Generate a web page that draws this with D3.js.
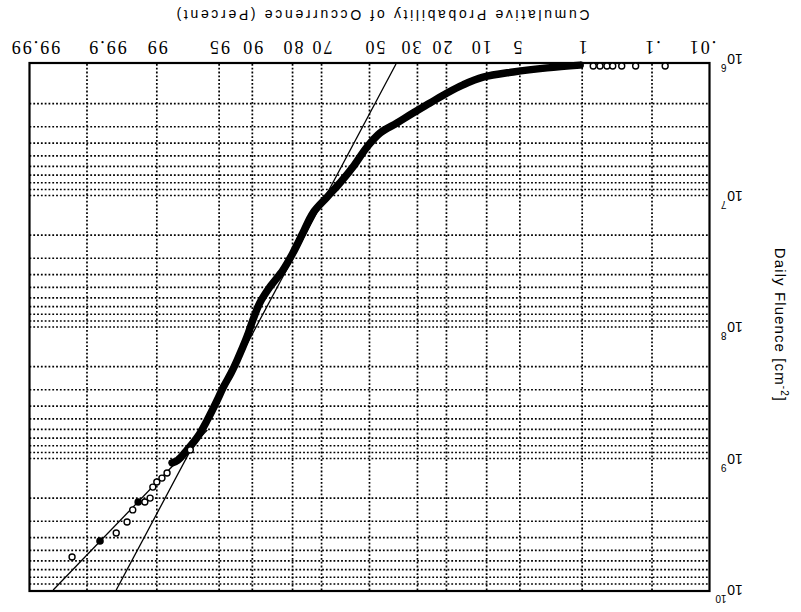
<!DOCTYPE html>
<html><head><meta charset="utf-8">
<script src="https://cdn.jsdelivr.net/npm/d3@7"></script>
<style>body{margin:0;background:#fff}</style>
</head><body><svg id="c" width="801" height="612"></svg>
<script>
// ---------- data ----------
const probTicks = [99.99, 99.9, 99, 95, 90, 80, 70, 50, 30, 20, 10, 5, 1, 0.1, 0.01];
const probTickLabels = ["99.99","99.9","99","95","90","80","70","50","30","20","10","5","1",".1",".01"];
const fluenceDecades = [1e6, 1e7, 1e8, 1e9, 1e10];
const fluenceExponents = ["6","7","8","9","10"];

// dense (filled) observations forming the thick curve
const curvePercent = [1.06,2.6,5.8,10.7,15.3,19.8,25.4,31.7,38.2,45.4,51.1,57.2,62.7,67.9,73.2,76.7,79.9,82.8,86.2,88.5,89.9,91.0,92.6,93.5,94.5,95.2,96.2,97.0,97.7,98.2,98.46];
const curveFluence = [1.02e6,1.07e6,1.15e6,1.26e6,1.44e6,1.66e6,1.98e6,2.36e6,2.81e6,3.35e6,4.28e6,6.07e6,8.04e6,1.03e7,1.36e7,1.93e7,2.74e7,3.69e7,4.96e7,6.57e7,8.85e7,1.19e8,1.78e8,2.24e8,2.86e8,3.59e8,5.10e8,6.86e8,8.62e8,1.03e9,1.08e9];

// open circle observations
const openPercent = [0.72,0.585,0.47,0.39,0.29,0.18,0.061,97.5,98.66,98.84,99.0,99.11,99.18,99.30,99.52,99.60,99.72,99.943];
const openFluence = [1.035e6,1.035e6,1.035e6,1.035e6,1.035e6,1.035e6,1.035e6,8.6e8,1.29e9,1.41e9,1.51e9,1.65e9,2.00e9,2.14e9,2.46e9,3.04e9,3.69e9,5.61e9];

// isolated filled observations
const filledPercent = [99.43, 99.84];
const filledFluence = [2.14e9, 4.24e9];

// fitted straight lines (log-normal fits)
const fitAPercent = [38.6, 99.72];
const fitAFluence = [1e6, 1e10];
const fitBPercent = [96.2, 99.973];
const fitBFluence = [6.07e8, 1e10];

// ---------- helpers ----------
function probit(p){
  const a=[-3.969683028665376e+01,2.209460984245205e+02,-2.759285104469687e+02,1.383577518672690e+02,-3.066479806614716e+01,2.506628277459239e+00];
  const b=[-5.447609879822406e+01,1.615858368580409e+02,-1.556989798598866e+02,6.680131188771972e+01,-1.328068155288572e+01];
  const c=[-7.784894002430293e-03,-3.223964580411365e-01,-2.400758277161838e+00,-2.549732539343734e+00,4.374664141464968e+00,2.938163982698783e+00];
  const d=[7.784695709041462e-03,3.224671290700398e-01,2.445134137142996e+00,3.754408661907416e+00];
  const pl=0.02425, ph=1-pl; let q,r;
  if(p<pl){q=Math.sqrt(-2*Math.log(p));return (((((c[0]*q+c[1])*q+c[2])*q+c[3])*q+c[4])*q+c[5])/((((d[0]*q+d[1])*q+d[2])*q+d[3])*q+1);}
  if(p<=ph){q=p-0.5;r=q*q;return (((((a[0]*r+a[1])*r+a[2])*r+a[3])*r+a[4])*r+a[5])*q/(((((b[0]*r+b[1])*r+b[2])*r+b[3])*r+b[4])*r+1);}
  q=Math.sqrt(-2*Math.log(1-p));return -(((((c[0]*q+c[1])*q+c[2])*q+c[3])*q+c[4])*q+c[5])/((((d[0]*q+d[1])*q+d[2])*q+d[3])*q+1);
}

const L = 29.5, R = 709.5, T = 64, B = 590;
const zScale = d3.scaleLinear().domain([probit(0.9999), probit(0.0001)]).range([L, R]);
const x = p => zScale(probit(p/100));
const y = d3.scaleLog().domain([1e6, 1e10]).range([T, B]);

const svg = d3.select("#c");
svg.append("rect").attr("width",801).attr("height",612).attr("fill","#fff");

// ---------- grid ----------
const grid = svg.append("g").attr("stroke","#000").attr("stroke-width",1.7).attr("stroke-dasharray","1.8,2");
const hVals = [];
for (let e = 6; e <= 9; e++) for (let k = 1; k <= 9; k++) { const v = k*Math.pow(10,e); if (v > 1e6) hVals.push(v); }
grid.selectAll("line.h").data(hVals).join("line").attr("class","h")
  .attr("x1",L).attr("x2",R).attr("y1",d=>y(d)).attr("y2",d=>y(d));
grid.selectAll("line.v").data(probTicks.slice(1,-1)).join("line").attr("class","v")
  .attr("x1",d=>x(d)).attr("x2",d=>x(d)).attr("y1",T).attr("y2",B);

// ---------- frame ----------
svg.append("rect").attr("x",L).attr("y",T-1).attr("width",R-L).attr("height",B-T+2)
  .attr("fill","none").attr("stroke","#000").attr("stroke-width",2.2);

// ---------- fitted lines ----------
const lineGen = d3.line().x(d=>x(d[0])).y(d=>y(d[1]));
svg.append("path").datum(d3.zip(fitAPercent, fitAFluence)).attr("d",lineGen)
  .attr("fill","none").attr("stroke","#000").attr("stroke-width",1.3);
svg.append("path").datum(d3.zip(fitBPercent, fitBFluence)).attr("d",lineGen)
  .attr("fill","none").attr("stroke","#000").attr("stroke-width",1.3);

// ---------- thick curve ----------
const curveGen = d3.line().x(d=>x(d[0])).y(d=>y(d[1])).curve(d3.curveCatmullRom);
svg.append("path").datum(d3.zip(curvePercent, curveFluence)).attr("d",curveGen)
  .attr("fill","none").attr("stroke","#000").attr("stroke-width",7.5)
  .attr("stroke-linecap","round").attr("stroke-linejoin","round");

// ---------- markers ----------
svg.selectAll("circle.open").data(d3.zip(openPercent, openFluence)).join("circle").attr("class","open")
  .attr("cx",d=>x(d[0])).attr("cy",d=>y(d[1])).attr("r",3)
  .attr("fill","#fff").attr("stroke","#000").attr("stroke-width",1.4);
svg.selectAll("circle.filled").data(d3.zip(filledPercent, filledFluence)).join("circle").attr("class","filled")
  .attr("cx",d=>x(d[0])).attr("cy",d=>y(d[1])).attr("r",3.8).attr("fill","#000");

// ---------- top tick labels (upside down) ----------
const nudge = {"99.99":5.5,"99.9":20,"50":5,"30":-7,"20":-5,"10":-6,"5":-3,".01":-7.5};
probTicks.forEach((p,i)=>{
  const lab = probTickLabels[i];
  svg.append("text")
    .attr("transform",`translate(${x(p)+(nudge[lab]||0)},47) rotate(180)`)
    .attr("text-anchor","middle").attr("dy","0.35em")
    .attr("font-family","'Liberation Serif', serif").attr("font-size",18)
    .attr("letter-spacing","2")
    .attr("fill","#000").text(lab);
});

// ---------- title (upside down) ----------
svg.append("text").attr("transform","translate(383,15) rotate(180)")
  .attr("text-anchor","middle").attr("dy","0.35em")
  .attr("font-family","'Liberation Sans', Arial, sans-serif").attr("font-size",14)
  .attr("textLength",413).attr("lengthAdjust","spacing")
  .attr("fill","#000").text("Cumulative Probability of Occurrence (Percent)");

// ---------- right decade labels (upside down) ----------
fluenceDecades.forEach((v,i)=>{
  const g = svg.append("g").attr("transform",`translate(735,${y(v) + (i===0?-5:0)}) rotate(180)`)
    .attr("font-family","'Liberation Sans', Arial, sans-serif").attr("fill","#000");
  g.append("text").attr("text-anchor","middle").attr("dy","0.35em").attr("font-size",14).text("10");
  g.append("text").attr("x",8.5).attr("y",-5).attr("font-size",10).text(fluenceExponents[i]);
});

// ---------- right axis title ----------
const at = svg.append("text").attr("transform","translate(780,325) rotate(90)")
  .attr("text-anchor","middle").attr("dy","0.35em")
  .attr("font-family","'Liberation Sans', Arial, sans-serif").attr("font-size",15)
  .attr("letter-spacing","1.1").attr("fill","#000");
at.append("tspan").text("Daily Fluence [cm");
at.append("tspan").attr("dy","-6").attr("font-size",10).text("-2");
at.append("tspan").attr("dy","6").text("]");
</script></body></html>
